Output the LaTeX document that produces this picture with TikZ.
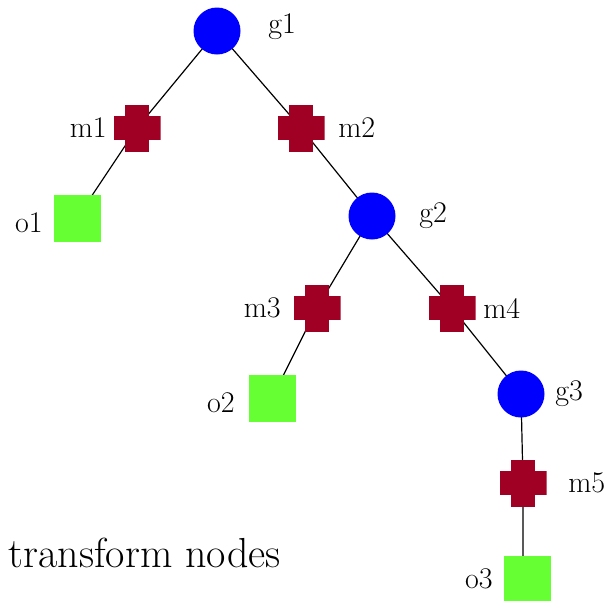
\documentclass[tikz,border=0pt]{standalone}
\usepackage{tikz}
\usetikzlibrary{positioning, backgrounds}
\definecolor{gblue}{RGB}{0,0,255}
\definecolor{mred}{RGB}{160,0,35}
\definecolor{ogreen}{RGB}{102,255,51}
\tikzstyle{gnode} = [circle, fill=gblue, minimum size=23.5pt, inner sep=0pt]
\tikzstyle{onode} = [rectangle, fill=ogreen, minimum size=23.5pt, inner sep=0pt]
\tikzstyle{mnode} = [rectangle, minimum size=23.5pt, inner sep=0pt,
path picture={
	\fill[mred] ([xshift=-6pt]path picture bounding box.north) rectangle ([xshift=6pt]path picture bounding box.south);
	\fill[mred] ([yshift=6pt]path picture bounding box.west) rectangle ([yshift=-6pt]path picture bounding box.east);}]
\tikzstyle{lbl} = [inner sep=0pt, font=\rmfamily\fontsize{15pt}{18pt}\selectfont]
\tikzstyle{edge} = [draw, line width=0.6pt]

\begin{document}
\begin{tikzpicture}[x=0.5pt, y=-0.5pt]
	\useasboundingbox (0,0) rectangle (614,600);
	% the tree nodes
	\node [gnode] (g1) at (217,31) {};
	\node [mnode] (m1) at (137,128) {};
	\node [mnode] (m2) at (301,128) {};
	\node [onode] (o1) at (77,218) {};
	\node [gnode] (g2) at (372,216) {};
	\node [mnode] (m3) at (317,308) {};
	\node [mnode] (m4) at (452,308) {};
	\node [onode] (o2) at (272,398) {};
	\node [gnode] (g3) at (521,394) {};
	\node [mnode] (m5) at (523,483) {};
	\node [onode] (o3) at (527,579) {};
	% their labels
	\node [lbl, right=13.5pt of g1, yshift=2pt] (g1l) {g1};
	\node [lbl, left=3pt of m1] (m1l) {m1};
	\node [lbl, right=6.5pt of m2] (m2l) {m2};
	\node [lbl, left=5pt of o1, yshift=-2.5pt] (o1l) {o1};
	\node [lbl, right=11.5pt of g2] (g2l) {g2};
	\node [lbl, left=6pt of m3] (m3l) {m3};
	\node [lbl, right=3.5pt of m4] (m4l) {m4};
	\node [lbl, left=6.5pt of o2, yshift=-2.5pt] (o2l) {o2};
	\node [lbl, right=5pt of g3] (g3l) {g3};
	\node [lbl, right=10.5pt of m5] (m5l) {m5};
	\node [lbl, left=5pt of o3] (o3l) {o3};
	\node [inner sep=0pt, anchor=base east, font=\rmfamily\fontsize{21pt}{25pt}\selectfont] (caption) at (281,567) {transform nodes};
	% edges go behind the nodes
	\begin{scope}[on background layer]
	\draw [edge] (g1.center) -- (m1.center) -- (o1.center);
	\draw [edge] (g1.center) -- (m2.center) -- (g2.center);
	\draw [edge] (g2.center) -- (m3.center) -- (o2.center);
	\draw [edge] (g2.center) -- (m4.center) -- (g3.center);
	\draw [edge] (g3.center) -- (m5.center) -- (m5.center |- o3.center);
	\end{scope}
\end{tikzpicture}
\end{document}
